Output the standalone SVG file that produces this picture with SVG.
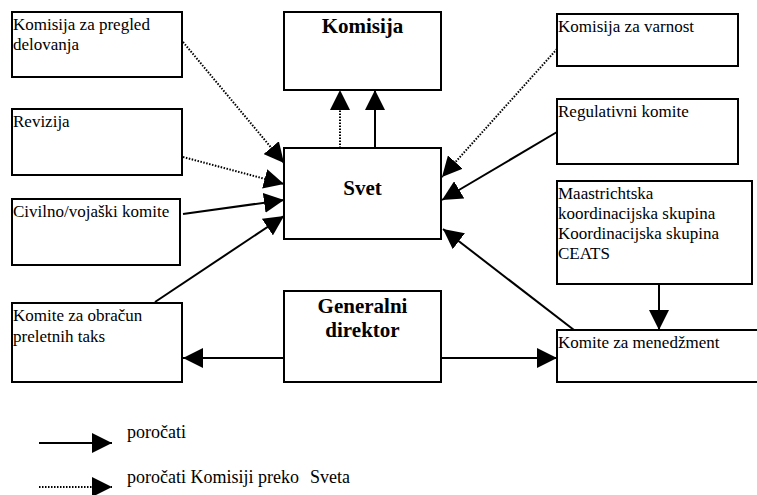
<svg xmlns="http://www.w3.org/2000/svg" width="757" height="495" viewBox="0 0 757 495">
<style>
.box{fill:#fff;stroke:#000;stroke-width:2}
.t{font-family:"Liberation Serif","Times New Roman",serif;font-size:17px;fill:#000}
.b{font-family:"Liberation Serif","Times New Roman",serif;font-size:21px;font-weight:bold;fill:#000;text-anchor:middle}
.lg{font-family:"Liberation Serif","Times New Roman",serif;font-size:18px;fill:#000;white-space:pre}
.s{stroke:#000;stroke-width:2;fill:none;marker-end:url(#ah)}
.d{stroke:#000;stroke-width:2;stroke-dasharray:1.5 1.5;fill:none;marker-end:url(#ah)}
</style>
<defs>
<marker id="ah" markerUnits="userSpaceOnUse" markerWidth="20" markerHeight="20" viewBox="0 0 20 20" refX="20" refY="10" orient="auto">
<path d="M0,0 L20,10 L0,20 z" fill="#000"/>
</marker>
</defs>
<rect width="757" height="495" fill="#fff"/>
<g id="connectors">
<line class="d" x1="183" y1="42" x2="284" y2="163"/>
<line class="d" x1="183" y1="157" x2="284" y2="184"/>
<line class="s" x1="183" y1="214" x2="284" y2="200"/>
<line class="s" x1="155" y1="302" x2="284" y2="216"/>
<line class="d" x1="557" y1="49" x2="442" y2="177"/>
<line class="s" x1="557" y1="132" x2="442" y2="200"/>
<line class="s" x1="574" y1="330" x2="443" y2="229"/>
<line class="d" x1="340" y1="148" x2="340" y2="90"/>
<line class="s" x1="375" y1="148" x2="375" y2="90"/>
<line class="s" x1="659" y1="284" x2="659" y2="330"/>
<line class="s" x1="284" y1="358" x2="183" y2="358"/>
<line class="s" x1="441" y1="358" x2="557" y2="358"/>
</g>
<g id="n-pregled"><rect class="box" x="12" y="12" width="170" height="65"/><text class="t" x="13" y="30">Komisija za pregled</text><text class="t" x="13" y="50">delovanja</text></g>
<g id="n-revizija"><rect class="box" x="12" y="109" width="170" height="66"/><text class="t" x="13" y="127">Revizija</text></g>
<g id="n-civilno"><rect class="box" x="12" y="199" width="168" height="66"/><text class="t" x="13" y="217">Civilno/vojaški komite</text></g>
<g id="n-obracun"><rect class="box" x="12" y="303" width="170" height="79"/><text class="t" x="13" y="321">Komite za obračun</text><text class="t" x="13" y="342">preletnih taks</text></g>
<g id="n-komisija"><rect class="box" x="284" y="12" width="157" height="78"/><text class="b" x="362.5" y="33">Komisija</text></g>
<g id="n-svet"><rect class="box" x="284" y="148" width="157" height="91"/><text class="b" x="362.5" y="195">Svet</text></g>
<g id="n-gd"><rect class="box" x="284" y="291" width="157" height="91"/><text class="b" x="362.5" y="313">Generalni</text><text class="b" x="362.5" y="337">direktor</text></g>
<g id="n-varnost"><rect class="box" x="557" y="14" width="181" height="52"/><text class="t" x="558" y="32">Komisija za varnost</text></g>
<g id="n-regulativni"><rect class="box" x="557" y="99" width="181" height="65"/><text class="t" x="558" y="117">Regulativni komite</text></g>
<g id="n-maastricht"><rect class="box" x="557" y="181" width="195" height="103"/><text class="t" x="558" y="199">Maastrichtska</text><text class="t" x="558" y="219">koordinacijska skupina</text><text class="t" x="558" y="239">Koordinacijska skupina</text><text class="t" x="558" y="259">CEATS</text></g>
<g id="n-menedzment"><rect class="box" x="557" y="330" width="203" height="52"/><text class="t" x="558" y="348">Komite za menedžment</text></g>
<g id="legend">
<line class="s" x1="39" y1="443" x2="112" y2="443"/>
<text class="lg" x="127" y="438">poročati</text>
<line class="d" x1="39" y1="487" x2="112" y2="487"/>
<text class="lg" x="127" y="483">poročati Komisiji preko</text>
<text class="lg" x="310" y="483">Sveta</text>
</g>
</svg>
